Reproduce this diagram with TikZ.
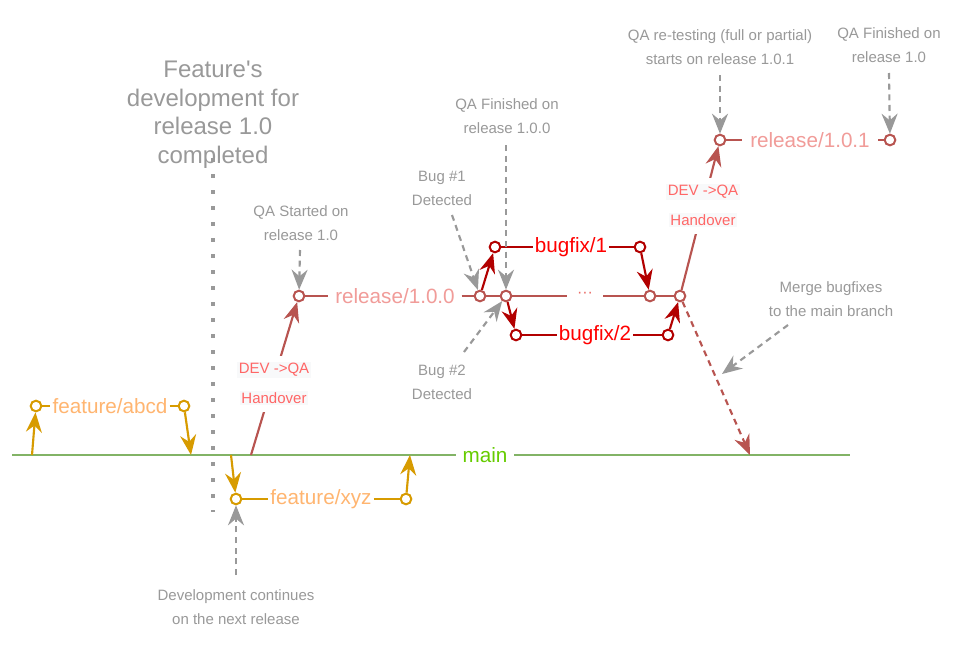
\documentclass[tikz,border=0pt]{standalone}
\usepackage{fontspec}
\setmainfont{Liberation Sans}[Ligatures=TeXOff]
\usetikzlibrary{arrows.meta}
\definecolor{grn}{HTML}{82B366}
\definecolor{maintxt}{HTML}{66CC00}
\definecolor{org}{HTML}{D79B00}
\definecolor{orgtxt}{HTML}{FFB570}
\definecolor{rel}{HTML}{B85450}
\definecolor{reltxt}{HTML}{F19C99}
\definecolor{dotc}{HTML}{EA6B66}
\definecolor{bug}{HTML}{B20000}
\definecolor{bugtxt}{HTML}{FF0000}
\definecolor{hand}{HTML}{FF6666}
\definecolor{handbg}{HTML}{F8F9FA}
\definecolor{gry}{HTML}{999999}
\newcommand{\hbg}[1]{{\setlength{\fboxsep}{1pt}\colorbox{handbg}{#1}}}
\tikzset{
  commit/.style={circle, draw, fill=white, line width=1.5pt, inner sep=0pt, minimum size=8pt},
  brlabel/.style={inner xsep=1.5pt, inner ysep=1pt, font=\fontsize{15.5}{18}\selectfont},
  annot/.style={text=gry, align=center, font=\fontsize{11.25}{18}\selectfont},
  handlbl/.style={text=hand, fill=white, inner xsep=1pt, inner ysep=0pt, minimum height=21pt, font=\fontsize{11.25}{14}\selectfont},
  solidarrow/.style={line width=1.6pt, -{Stealth[length=15pt,width=12pt,inset=5pt]}},
  grayarrow/.style={gry, line width=1.6pt, dash pattern=on 4.5pt off 3.5pt, -{Stealth[length=15pt,width=12pt,inset=5pt]}},
}
\begin{document}
\begin{tikzpicture}[x=0.75pt,y=-0.75pt]
\useasboundingbox[fill=white] (0,0) rectangle (972,646);

% headline text
\node[text=gry, align=center, font=\fontsize{18}{21.4}\selectfont] (feat) at (213,114.5) {Feature's\\development for\\release 1.0\\completed};

% main branch
\coordinate (mL) at (12,455);
\coordinate (mR) at (850,455);
\node[brlabel, text=maintxt, inner xsep=5pt] (mainlbl) at (485,455) {main};
\draw[grn, line width=1.6pt] (mL) -- (mainlbl) -- (mR);

% dotted divider
\coordinate (dT) at (213,158);
\coordinate (dB) at (213,512);
\draw[gry, line width=3pt, dash pattern=on 3pt off 9pt] (dT) -- (dB);

% feature/abcd
\node[commit, draw=org] (fa1) at (36,406) {};
\node[commit, draw=org] (fa2) at (184,406) {};
\node[brlabel, text=orgtxt] (falbl) at (110,406) {feature/abcd};
\draw[org, line width=1.6pt] (fa1) -- (falbl) -- (fa2);
\coordinate (ma1) at (32,455);
\coordinate (ma2) at (191,455);
\draw[org, solidarrow] (ma1) -- (fa1);
\draw[org, solidarrow] (fa2) -- (ma2);

% feature/xyz
\node[commit, draw=org] (fx1) at (236,499) {};
\node[commit, draw=org] (fx2) at (406,499) {};
\node[brlabel, text=orgtxt] (fxlbl) at (321,499) {feature/xyz};
\draw[org, line width=1.6pt] (fx1) -- (fxlbl) -- (fx2);
\coordinate (mx1) at (231,455);
\coordinate (mx2) at (410,455);
\draw[org, solidarrow] (mx1) -- (fx1);
\draw[org, solidarrow] (fx2) -- (mx2);

% release/1.0.0
\node[commit, draw=rel] (r1) at (299,296) {};
\node[commit, draw=rel] (r2) at (480,296) {};
\node[commit, draw=rel] (r3) at (506,296) {};
\node[commit, draw=rel] (r4) at (650,296) {};
\node[commit, draw=rel] (r5) at (680,296) {};
\node[brlabel, text=reltxt, inner xsep=5pt] (rlbl) at (395,296) {release/1.0.0};
\node[text=dotc, inner sep=0pt, minimum width=27pt, font=\fontsize{12}{14}\selectfont] (dots) at (585,296) {\raisebox{0.25ex}{···}};
\draw[rel, line width=1.6pt] (r1) -- (rlbl) -- (r2) -- (r3) -- (dots) -- (r4) -- (r5);

% bugfix/1
\node[commit, draw=bug] (b1a) at (495,247) {};
\node[commit, draw=bug] (b1b) at (640,247) {};
\node[brlabel, text=bugtxt] (b1lbl) at (571,247) {bugfix/1};
\draw[bug, line width=1.6pt] (b1a) -- (b1lbl) -- (b1b);
\draw[bug, solidarrow] (r2) -- (b1a);
\draw[bug, solidarrow] (b1b) -- (r4);

% bugfix/2
\node[commit, draw=bug] (b2a) at (516,335) {};
\node[commit, draw=bug] (b2b) at (668,335) {};
\node[brlabel, text=bugtxt] (b2lbl) at (595,335) {bugfix/2};
\draw[bug, line width=1.6pt] (b2a) -- (b2lbl) -- (b2b);
\draw[bug, solidarrow] (r3) -- (b2a);
\draw[bug, solidarrow] (b2b) -- (r5);

% release/1.0.1
\node[commit, draw=rel] (rr1) at (720,140) {};
\node[commit, draw=rel] (rr2) at (890,140) {};
\node[brlabel, text=reltxt, inner xsep=6pt] (rrlbl) at (810,140) {release/1.0.1};
\draw[rel, line width=1.6pt] (rr1) -- (rrlbl) -- (rr2);

% DEV -> QA handovers
\coordinate (mh1) at (251,455);
\draw[rel, solidarrow] (mh1) -- (r1);
\node[handlbl] (hA1) at (274,370) {\hbg{DEV ->QA}};
\node[handlbl] (hA2) at (274,398) {\hbg{Handover}};
\draw[rel, solidarrow] (r5) -- (rr1);
\node[handlbl] (hB1) at (703,192) {\hbg{DEV ->QA}};
\node[handlbl] (hB2) at (703,220) {\hbg{Handover}};

% merge to main
\coordinate (mm) at (750,455);
\draw[rel, line width=1.6pt, dash pattern=on 4.5pt off 3.5pt, -{Stealth[length=15pt,width=12pt,inset=5pt]}] (r5) -- (mm);

% annotations
\node[annot] (qas) at (301,223) {QA Started on\\release 1.0};
\node[annot] (qaf100) at (507,116) {QA Finished on\\release 1.0.0};
\node[annot] (bug1) at (442,188) {Bug \#1\\Detected};
\node[annot] (bug2) at (442,382) {Bug \#2\\Detected};
\node[annot] (qaret) at (720,47) {QA re-testing (full or partial)\\starts on release 1.0.1};
\node[annot] (qaf10) at (889,45) {QA Finished on\\release 1.0};
\node[annot] (merge) at (831,299) {Merge bugfixes\\to the main branch};
\node[annot] (devc) at (236,607) {Development continues\\on the next release};

\coordinate (qasA) at (300,250);
\coordinate (qafA) at (506,145);
\coordinate (b1A) at (452,215);
\coordinate (b2A) at (464,352);
\coordinate (qrA) at (720,75);
\coordinate (qfA) at (889,73);
\coordinate (mgA) at (788,325);
\coordinate (mgB) at (722,374);
\coordinate (dcA) at (236,575);
\draw[grayarrow] (qasA) -- (r1);
\draw[grayarrow] (qafA) -- (r3);
\draw[grayarrow] (b1A) -- (r2);
\draw[grayarrow] (b2A) -- (r3);
\draw[grayarrow] (qrA) -- (rr1);
\draw[grayarrow] (qfA) -- (rr2);
\draw[grayarrow] (mgA) -- (mgB);
\draw[grayarrow] (dcA) -- (fx1);
\end{tikzpicture}
\end{document}
